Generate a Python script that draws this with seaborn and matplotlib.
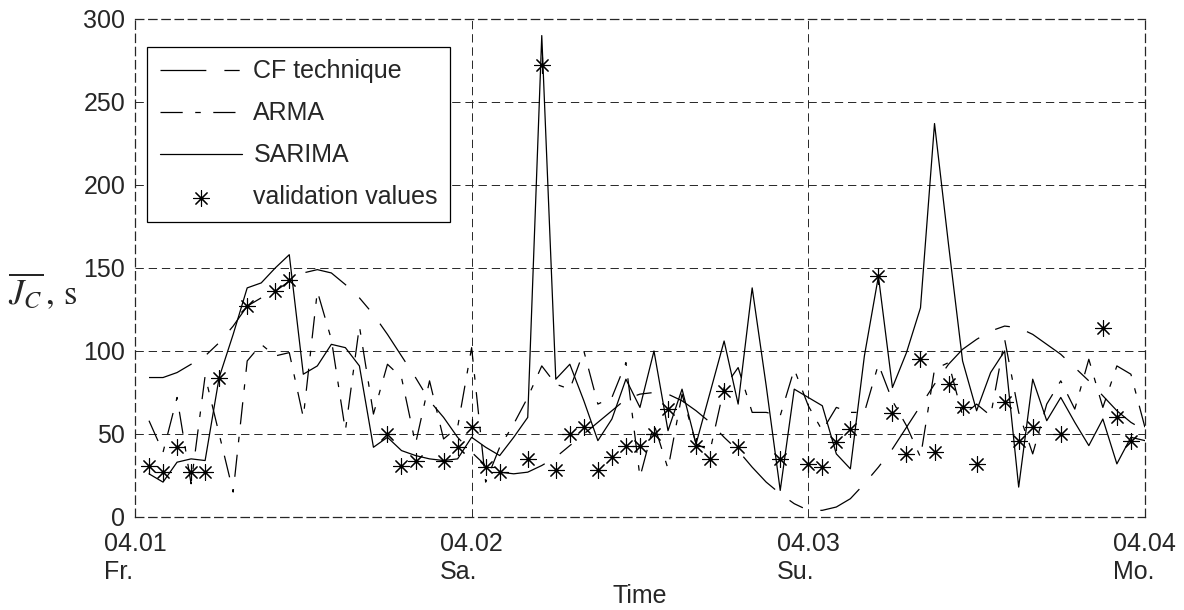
import numpy as np
import matplotlib
matplotlib.use("Agg")
import matplotlib.pyplot as plt
import seaborn as sns

# --- data (hourly values, hour 1..72 after 04.01 00:00) ---
hours = np.arange(1, 73)

cf_technique = [84, 84, 87, 92, 97, 105, 115, 127, 132, 136, 142, 147,
                149, 147, 140, 132, 122, 110, 97, 84, 70, 60, 48, 39,
                31, 27, 26, 27, 31, 36, 43, 50, 57, 64, 71, 74,
                75, 74, 70, 64, 57, 48, 40, 30, 21, 14, 8, 4,
                4, 6, 11, 20, 30, 41, 54, 67, 80, 92, 101, 107,
                112, 115, 114, 110, 104, 98, 90, 82, 73, 64, 57, 52]

arma = [58, 39, 72, 20, 85, 50, 15, 94, 104, 97, 99, 60,
        136, 107, 52, 115, 62, 92, 84, 44, 82, 47, 54, 102,
        21, 42, 56, 72, 91, 80, 77, 100, 68, 72, 93, 24,
        56, 29, 74, 44, 40, 78, 90, 63, 63, 61, 89, 67,
        52, 66, 63, 63, 92, 70, 55, 36, 89, 93, 61, 68,
        61, 107, 63, 38, 68, 82, 65, 95, 66, 91, 86, 54]

sarima = [26, 21, 33, 35, 34, 84, 110, 138, 141, 150, 158, 86,
          91, 104, 102, 91, 42, 48, 40, 37, 35, 34, 35, 48,
          42, 37, 48, 60, 290, 83, 92, 70, 46, 59, 83, 66,
          100, 52, 77, 44, 75, 106, 68, 138, 79, 16, 77, 72,
          67, 38, 29, 97, 145, 78, 99, 126, 237, 164, 94, 64,
          87, 100, 18, 83, 58, 72, 57, 43, 59, 32, 48, 46]

nan = np.nan
validation = [31, 27, 42, 27, 27, 83.5, nan, 127, nan, 136, 142.5, nan,
              nan, nan, nan, nan, nan, 50, 31, 34, nan, 34, 42, 54,
              30, 27, nan, 35, 272, 28, 50, 54, 28, 36, 43, 43,
              50, 65, nan, 43, 35, 76, 42, nan, nan, 35, nan, 32,
              30, 45, 53, nan, 145, 62.5, 38, 95, 39, 80, 66, 32,
              nan, 69, 46, 54, nan, 50, nan, nan, 114, 60.5, 46, nan]

day_ticks = [0, 24, 48, 72]
day_labels = ["04.01\nFr.", "04.02\nSa.", "04.03\nSu.", "04.04\nMo."]
y_ticks = [0, 50, 100, 150, 200, 250, 300]

# --- style ---
sns.set_style("white")
plt.rcParams["font.family"] = ["Liberation Sans", "DejaVu Sans"]
plt.rcParams["mathtext.fontset"] = "stix"
plt.rcParams["lines.scale_dashes"] = False

FS = 18
grid_dash = (0, (6, 3.5))

fig = plt.figure(figsize=(11.84, 6.10), dpi=100)
ax = fig.add_axes([0.114, 0.1525, 0.853, 0.8164])

sns.lineplot(x=hours, y=cf_technique, ax=ax, color="k", lw=0.9,
             linestyle=(0, (33, 13, 11, 13)), label="CF technique")
sns.lineplot(x=hours, y=arma, ax=ax, color="k", lw=0.9,
             linestyle=(0, (16, 9, 4, 9)), label="ARMA")
sns.lineplot(x=hours, y=sarima, ax=ax, color="k", lw=0.9,
             linestyle="-", label="SARIMA")
sns.scatterplot(x=hours, y=validation, ax=ax, marker=(8, 2, 0), s=130,
                color="k", edgecolor="k", linewidth=0.8,
                label="validation values", zorder=5)

ax.set_xlim(0, 72)
ax.set_ylim(0, 300)
ax.set_xticks(day_ticks)
ax.set_xticklabels(day_labels, fontsize=FS)
for lab in ax.get_xticklabels():
    lab.set_multialignment("left")
ax.set_yticks(y_ticks)
ax.set_yticklabels([str(v) for v in y_ticks], fontsize=FS)
ax.tick_params(axis="y", length=0, pad=7)
ax.tick_params(axis="x", length=0, pad=11)

ax.grid(True, color="0.15", linestyle=grid_dash, linewidth=0.7)
for sp in ax.spines.values():
    sp.set_visible(True)
    sp.set_color("0.15")
    sp.set_linewidth(0.9)
    sp.set_linestyle(grid_dash)

ax.set_xlabel("Time", fontsize=FS, labelpad=0)
ax.set_ylabel(r"$\overline{J_C}\,,\,\mathrm{s}$", fontsize=25, rotation=0,
              ha="left", va="center")
ax.yaxis.set_label_coords(-0.126, 0.455)

leg = ax.legend(loc="upper left", bbox_to_anchor=(0.012, 0.944),
                borderaxespad=0, fontsize=FS, frameon=True, fancybox=False,
                handlelength=3.3, handletextpad=0.45, labelspacing=0.72,
                borderpad=0.5)
leg.get_frame().set_edgecolor("k")
leg.get_frame().set_linewidth(0.9)
leg.get_frame().set_alpha(1)

plt.savefig("out.png", dpi=100)
plt.close()
